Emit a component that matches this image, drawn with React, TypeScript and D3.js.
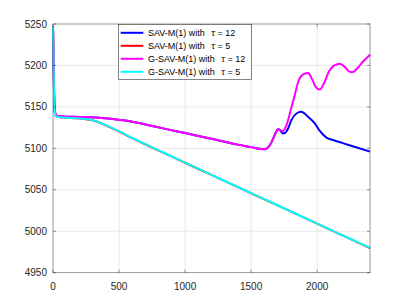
import React from "react";
import * as d3 from "d3";

const xTicks = [0, 500, 1000, 1500, 2000];
const yTicks = [4950, 5000, 5050, 5100, 5150, 5200, 5250];

// SAV-M(1) tau = 12 (blue)
const blueT = [0, 4, 8, 12, 18, 25, 40, 80, 150, 250, 350, 450, 550, 650, 750, 850, 1000, 1100, 1200, 1300, 1400, 1500, 1560, 1600, 1620, 1650, 1670, 1690, 1705, 1720, 1740, 1760, 1780, 1805, 1843, 1880, 1931, 1982, 2020, 2070, 2120, 2200, 2300, 2400];
const blueV = [5247, 5210, 5170, 5150, 5142, 5140, 5139, 5138.5, 5138, 5137.5, 5137, 5135.5, 5133.5, 5130.5, 5127, 5123.5, 5118.5, 5115, 5111.5, 5108, 5104.5, 5101.5, 5099.5, 5099, 5100, 5106, 5113, 5120, 5123, 5122, 5118, 5119, 5124, 5134, 5142, 5144, 5138, 5130, 5121, 5113, 5110, 5106, 5101, 5096];

// G-SAV-M(1) tau = 12 (magenta)
const magT = [0, 4, 8, 12, 18, 25, 40, 80, 150, 250, 350, 450, 550, 650, 750, 850, 1000, 1100, 1200, 1300, 1400, 1500, 1560, 1600, 1620, 1650, 1670, 1690, 1705, 1720, 1740, 1768, 1790, 1806, 1830, 1856, 1890, 1931, 1960, 1990, 2020, 2050, 2090, 2130, 2171, 2210, 2250, 2272, 2300, 2350, 2400];
const magV = [5247, 5210, 5170, 5150, 5142, 5140, 5139, 5138.5, 5138, 5137.5, 5137, 5135.5, 5133.5, 5130.5, 5127, 5123.5, 5118.5, 5115, 5111.5, 5108, 5104.5, 5101.5, 5099.5, 5099, 5100, 5106, 5113, 5120, 5123, 5122, 5121, 5128, 5140, 5150, 5164, 5180, 5189, 5191, 5184, 5174, 5171, 5178, 5193, 5200, 5202, 5198, 5192, 5192, 5196, 5205, 5213];

// SAV-M(1) tau = 5 (red)
const redT = [0, 4, 8, 12, 18, 25, 50, 100, 200, 300, 400, 500, 600, 700, 800, 900, 1000, 1200, 1400, 1700, 2000, 2200, 2400];
const redV = [5247, 5205, 5165, 5145, 5140, 5138.5, 5137.5, 5137, 5136, 5133.8, 5127.8, 5120.3, 5112.3, 5104.8, 5097.3, 5090, 5082.6, 5067.9, 5053.2, 5031.2, 5009.1, 4994.4, 4979.7];

// G-SAV-M(1) tau = 5 (cyan)
const cyanT = [0, 4, 8, 12, 18, 25, 50, 100, 200, 300, 400, 500, 600, 700, 800, 900, 1000, 1200, 1400, 1700, 2000, 2200, 2400];
const cyanV = [5247, 5205, 5165, 5145, 5140, 5138.5, 5137.5, 5137, 5136, 5134, 5128, 5120.5, 5112.5, 5105, 5097.5, 5090.2, 5082.8, 5068.1, 5053.4, 5031.4, 5009.3, 4994.6, 4980];

const series = [
  { name: "SAV-M(1) with", tau: "12", color: "#0000ff", t: blueT, v: blueV },
  { name: "SAV-M(1) with", tau: "5", color: "#ff0000", t: redT, v: redV },
  { name: "G-SAV-M(1) with", tau: "12", color: "#ff00ff", t: magT, v: magV },
  { name: "G-SAV-M(1) with", tau: "5", color: "#00ffff", t: cyanT, v: cyanV },
];

export default function App() {
  const W = 409, H = 307;
  const L = 53, R = 370, T = 24, B = 272.7;
  const x = d3.scaleLinear().domain([0, 2400]).range([L, R]);
  const y = d3.scaleLinear().domain([4950, 5250]).range([B, T]);
  const line = d3.line<[number, number]>().x(d => x(d[0])).y(d => y(d[1])).curve(d3.curveMonotoneX);
  const font = "'Liberation Sans', Arial, Helvetica, sans-serif";
  const axisColor = "#262626";
  const gridColor = "#e3e3e3";
  const lgX = 118.5, lgY = 24.5, lgW = 133, lgH = 55;
  return (
    <svg width={W} height={H} style={{ position: "absolute", left: 0, top: 0, background: "#fff" }} fontFamily={font}>
      <rect x={L} y={T} width={R - L} height={B - T} fill="#fff" />
      {xTicks.filter(t => t > 0).map(t => (
        <line key={"gx" + t} x1={x(t)} x2={x(t)} y1={T} y2={B} stroke={gridColor} strokeWidth={0.8} />
      ))}
      {yTicks.filter(v => v > 4950 && v < 5250).map(v => (
        <line key={"gy" + v} x1={L} x2={R} y1={y(v)} y2={y(v)} stroke={gridColor} strokeWidth={0.8} />
      ))}
      {series.map(s => (
        <path key={s.color} d={line(s.t.map((t, i) => [t, s.v[i]] as [number, number])) || ""} fill="none" stroke={s.color} strokeWidth={2} strokeLinejoin="round" />
      ))}
      <rect x={L} y={T} width={R - L} height={B - T} fill="none" stroke={axisColor} strokeOpacity={0.6} strokeWidth={0.8} />
      {xTicks.map(t => (
        <g key={"tx" + t}>
          <line x1={x(t)} x2={x(t)} y1={B} y2={B - 3} stroke={axisColor} strokeOpacity={0.6} strokeWidth={0.8} />
          <line x1={x(t)} x2={x(t)} y1={T} y2={T + 3} stroke={axisColor} strokeOpacity={0.6} strokeWidth={0.8} />
          <text x={x(t)} y={B + 17} fontSize={10} fill={axisColor} textAnchor="middle">{t}</text>
        </g>
      ))}
      {yTicks.map(v => (
        <g key={"ty" + v}>
          <line x1={L} x2={L + 3} y1={y(v)} y2={y(v)} stroke={axisColor} strokeOpacity={0.6} strokeWidth={0.8} />
          <line x1={R} x2={R - 3} y1={y(v)} y2={y(v)} stroke={axisColor} strokeOpacity={0.6} strokeWidth={0.8} />
          <text x={L - 6} y={y(v) + 3.5} fontSize={10} fill={axisColor} textAnchor="end">{v}</text>
        </g>
      ))}
      <rect x={lgX} y={lgY} width={lgW} height={lgH} fill="#fff" stroke={axisColor} strokeOpacity={0.7} strokeWidth={0.8} />
      {series.map((s, i) => {
        const cy = 32.8 + i * 13;
        return (
          <g key={"lg" + i}>
            <line x1={120.7} x2={143.3} y1={cy} y2={cy} stroke={s.color} strokeWidth={2} />
            <text x={148} y={cy + 3.2} fontSize={9} fill="#000">
              {s.name}
              <tspan dx={6} fontStyle="italic" fontFamily="'DejaVu Serif', serif" fontSize={8.5}>τ</tspan>
              <tspan dx={2}>= {s.tau}</tspan>
            </text>
          </g>
        );
      })}
    </svg>
  );
}
